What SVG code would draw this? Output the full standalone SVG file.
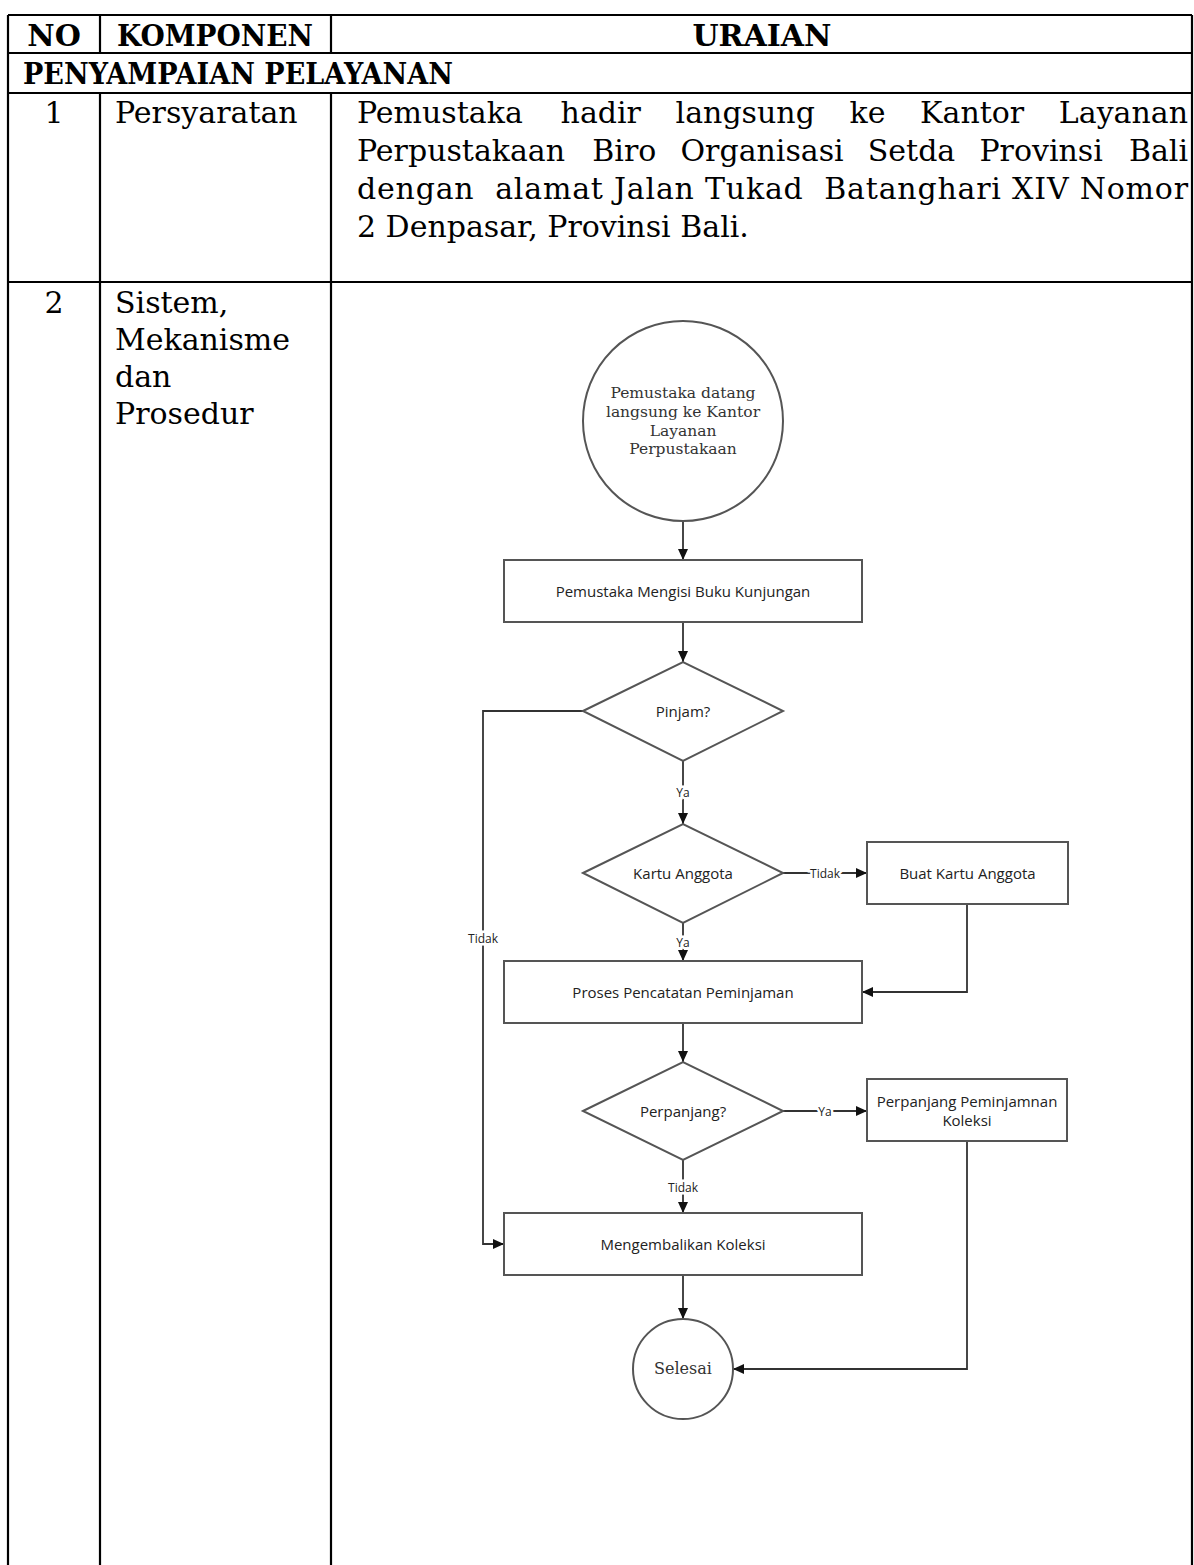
<svg xmlns="http://www.w3.org/2000/svg" width="1194" height="1565" viewBox="0 0 1194 1565">
  <style>
    .grid { stroke: #000; stroke-width: 2.2; fill: none; }
    .hd { font-family: "DejaVu Serif", "Liberation Serif", serif; font-weight: bold; font-size: 30px; fill: #000; }
    .tx { font-family: "DejaVu Serif", "Liberation Serif", serif; font-size: 30px; fill: #000; }
    .shape { fill: #fff; stroke: #555; stroke-width: 2; }
    .edge { fill: none; stroke: #333; stroke-width: 1.8; }
    .lbl { font-family: "Open Sans", "Liberation Sans", sans-serif; font-size: 15px; fill: #222; text-anchor: middle; dominant-baseline: central; }
    .ser { font-family: "DejaVu Serif", "Liberation Serif", serif; font-size: 15.5px; fill: #333; text-anchor: middle; dominant-baseline: central; }
    .tag { font-family: "Open Sans", "Liberation Sans", sans-serif; font-size: 12px; fill: #222; text-anchor: middle; dominant-baseline: central; stroke: #fff; stroke-width: 5; paint-order: stroke; }
  </style>
  <defs>
    <marker id="arrow" markerWidth="11" markerHeight="10" refX="11" refY="5" orient="auto" markerUnits="userSpaceOnUse">
      <path d="M0,0 L11,5 L0,10 z" fill="#111"/>
    </marker>
  </defs>
  <rect width="1194" height="1565" fill="#fff"/>

  <!-- table grid -->
  <g id="table-grid" class="grid">
    <line x1="8" y1="15" x2="1192" y2="15"/>
    <line x1="8" y1="53" x2="1192" y2="53"/>
    <line x1="8" y1="93" x2="1192" y2="93"/>
    <line x1="8" y1="282" x2="1192" y2="282"/>
    <line x1="8" y1="15" x2="8" y2="1565"/>
    <line x1="1192" y1="15" x2="1192" y2="1565"/>
    <line x1="100" y1="15" x2="100" y2="53"/>
    <line x1="331" y1="15" x2="331" y2="53"/>
    <line x1="100" y1="93" x2="100" y2="1565"/>
    <line x1="331" y1="93" x2="331" y2="1565"/>
  </g>

  <!-- table header and rows -->
  <g id="table-text">
    <text class="hd" x="54" y="46" text-anchor="middle">NO</text>
    <text class="hd" x="215" y="46" text-anchor="middle" textLength="196" lengthAdjust="spacingAndGlyphs">KOMPONEN</text>
    <text class="hd" x="762" y="46" text-anchor="middle">URAIAN</text>
    <text class="hd" x="23" y="84" textLength="430" lengthAdjust="spacingAndGlyphs">PENYAMPAIAN PELAYANAN</text>

    <text class="tx" x="54" y="123" text-anchor="middle">1</text>
    <text class="tx" x="115" y="123">Persyaratan</text>

    <text class="tx" y="123"><tspan x="357">Pemustaka</tspan><tspan x="560.6">hadir</tspan><tspan x="675.6">langsung</tspan><tspan x="849.5">ke</tspan><tspan x="920.1">Kantor</tspan></text>
    <text class="tx" x="1188" y="123" text-anchor="end">Layanan</text>
    <text class="tx" y="161"><tspan x="357">Perpustakaan</tspan><tspan x="592.3">Biro</tspan><tspan x="680.5">Organisasi</tspan><tspan x="867.8">Setda</tspan><tspan x="979.4">Provinsi</tspan></text>
    <text class="tx" x="1188" y="161" text-anchor="end">Bali</text>
    <text class="tx" x="357" y="199" xml:space="preserve" textLength="831" lengthAdjust="spacing">dengan  alamat Jalan Tukad  Batanghari XIV Nomor</text>
    <text class="tx" x="357" y="237">2 Denpasar, Provinsi Bali.</text>

    <text class="tx" x="54" y="313" text-anchor="middle">2</text>
    <text class="tx" x="115" y="313">Sistem,</text>
    <text class="tx" x="115" y="350">Mekanisme</text>
    <text class="tx" x="115" y="387">dan</text>
    <text class="tx" x="115" y="424">Prosedur</text>
  </g>

  <!-- flowchart connectors -->
  <g id="connectors" class="edge">
    <path d="M683,521 L683,560" marker-end="url(#arrow)"/>
    <path d="M683,622 L683,662" marker-end="url(#arrow)"/>
    <path d="M583,711 L483,711 L483,1244 L504,1244" marker-end="url(#arrow)"/>
    <path d="M683,761 L683,824" marker-end="url(#arrow)"/>
    <path d="M783,873 L867,873" marker-end="url(#arrow)"/>
    <path d="M683,923 L683,961" marker-end="url(#arrow)"/>
    <path d="M967,904 L967,992 L862,992" marker-end="url(#arrow)"/>
    <path d="M683,1023 L683,1062" marker-end="url(#arrow)"/>
    <path d="M783,1111 L867,1111" marker-end="url(#arrow)"/>
    <path d="M683,1160 L683,1213" marker-end="url(#arrow)"/>
    <path d="M967,1141 L967,1369 L733,1369" marker-end="url(#arrow)"/>
    <path d="M683,1275 L683,1319" marker-end="url(#arrow)"/>
  </g>

  <!-- connector labels -->
  <g id="connector-labels">
    <text class="tag" x="683" y="792">Ya</text>
    <text class="tag" x="483" y="938">Tidak</text>
    <text class="tag" x="825" y="873">Tidak</text>
    <text class="tag" x="683" y="942">Ya</text>
    <text class="tag" x="825" y="1111">Ya</text>
    <text class="tag" x="683" y="1187">Tidak</text>
  </g>

  <!-- flowchart nodes -->
  <g id="start">
    <circle class="shape" cx="683" cy="421" r="100"/>
    <text class="ser" x="683" y="393">Pemustaka datang</text>
    <text class="ser" x="683" y="412">langsung ke Kantor</text>
    <text class="ser" x="683" y="431">Layanan</text>
    <text class="ser" x="683" y="449">Perpustakaan</text>
  </g>
  <g id="isi-buku">
    <rect class="shape" x="504" y="560" width="358" height="62"/>
    <text class="lbl" x="683" y="591">Pemustaka Mengisi Buku Kunjungan</text>
  </g>
  <g id="pinjam">
    <polygon class="shape" points="583,711 683,662 783,711 683,761"/>
    <text class="lbl" x="683" y="711">Pinjam?</text>
  </g>
  <g id="kartu-anggota">
    <polygon class="shape" points="583,873 683,824 783,873 683,923"/>
    <text class="lbl" x="683" y="873">Kartu Anggota</text>
  </g>
  <g id="buat-kartu">
    <rect class="shape" x="867" y="842" width="201" height="62"/>
    <text class="lbl" x="967.5" y="873">Buat Kartu Anggota</text>
  </g>
  <g id="pencatatan">
    <rect class="shape" x="504" y="961" width="358" height="62"/>
    <text class="lbl" x="683" y="992">Proses Pencatatan Peminjaman</text>
  </g>
  <g id="perpanjang">
    <polygon class="shape" points="583,1111 683,1062 783,1111 683,1160"/>
    <text class="lbl" x="683" y="1111">Perpanjang?</text>
  </g>
  <g id="perpanjang-koleksi">
    <rect class="shape" x="867" y="1079" width="200" height="62"/>
    <text class="lbl" x="967" y="1101">Perpanjang Peminjamnan</text>
    <text class="lbl" x="967" y="1120">Koleksi</text>
  </g>
  <g id="kembalikan">
    <rect class="shape" x="504" y="1213" width="358" height="62"/>
    <text class="lbl" x="683" y="1244">Mengembalikan Koleksi</text>
  </g>
  <g id="selesai">
    <circle class="shape" cx="683" cy="1369" r="50"/>
    <text class="ser" x="683" y="1368" style="font-size:16px">Selesai</text>
  </g>
</svg>
